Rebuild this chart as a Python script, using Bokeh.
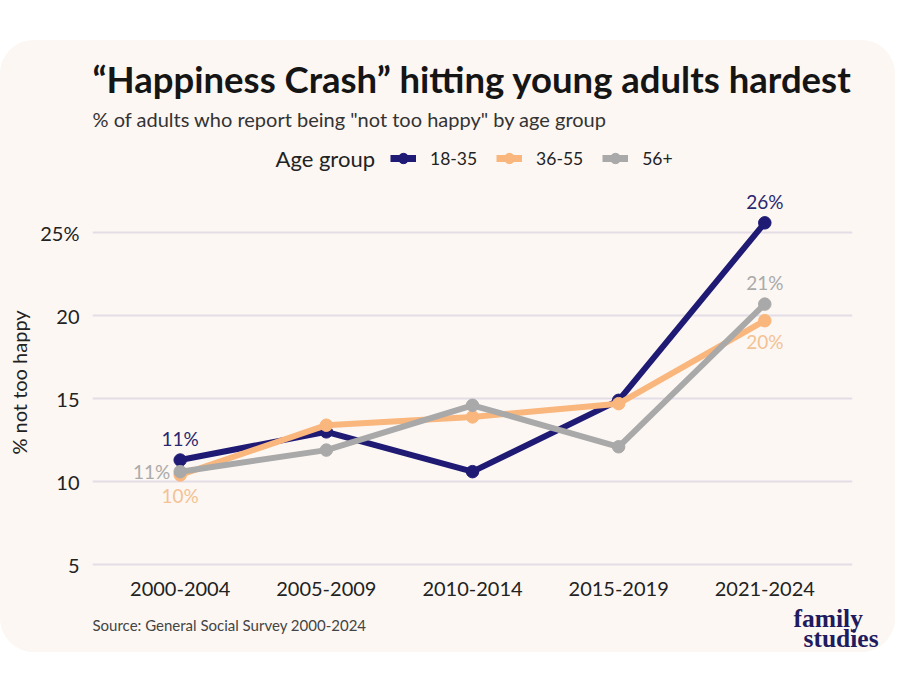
from bokeh.plotting import figure
from bokeh.models import (FactorRange, Range1d, FixedTicker, Legend, LegendItem, Spacer)
from bokeh.layouts import column, row
from bokeh.core.properties import value
from bokeh.embed import file_html
from bokeh.resources import INLINE

# ---- data ----
periods = ["2000-2004", "2005-2009", "2010-2014", "2015-2019", "2021-2024"]
age_18_35 = [11.3, 13.0, 10.6, 14.9, 25.6]
age_36_55 = [10.4, 13.4, 13.9, 14.7, 19.7]
age_56_up = [10.6, 11.9, 14.6, 12.1, 20.7]
series_names = ["18-35", "36-55", "56+"]
y_ticks = [5, 10, 15, 20, 25]
y_tick_labels = {5: "5", 10: "10", 15: "15", 20: "20", 25: "25%"}

title = "\u201cHappiness Crash\u201d hitting young adults hardest"
subtitle = '% of adults who report being "not too happy" by age group'
legend_title = "Age group"
source = "Source: General Social Survey 2000-2024"
logo_lines = ["family", "studies"]

NAVY = "#1f1b74"
PEACH = "#f9b67d"
GRAY = "#a9a9a9"
COLORS = [NAVY, PEACH, GRAY]
BG = "#fcf7f3"
FONT = "Lato"
W = 895
NAN = float("nan")
LW = 6


def blank(fig):
    fig.axis.visible = False
    fig.grid.visible = False
    fig.outline_line_color = None
    fig.background_fill_color = BG
    fig.border_fill_color = BG
    try:
        fig.title = None
    except Exception:
        pass


# ---------------- header: title, subtitle, legend ----------------
HH = 150
h = figure(width=W, height=HH, x_range=Range1d(0, W), y_range=Range1d(HH, 0),
           output_backend="svg", toolbar_location=None, min_border=0)
blank(h)
h.styles = {"border-top-left-radius": "34px", "border-top-right-radius": "34px", "overflow": "hidden"}
h.text(x=[92], y=[38], text=[title], text_font=value(FONT), text_font_size="36.5px",
       text_font_style="bold", text_color="#151515", text_baseline="middle")
h.text(x=[92], y=[78], text=[subtitle], text_font=value(FONT), text_font_size="20px",
       text_color="#333333", text_baseline="middle")
h.text(x=[275], y=[118], text=[legend_title], text_font=value(FONT), text_font_size="22px",
       text_color="#222222", text_baseline="middle")
items = []
for name, col in zip(series_names, COLORS):
    # legend proxies: a single NaN point, so nothing is drawn in the header itself
    kl = h.line(x=[NAN], y=[NAN], line_color=col, line_width=LW + 1)
    ks = h.scatter(x=[NAN], y=[NAN], size=12, fill_color=col, line_color=col)
    items.append(LegendItem(label=name, renderers=[kl, ks]))
legend = Legend(items=items, orientation="horizontal", location=(390, 17),
                label_text_font=FONT, label_text_font_size="17.5px", label_text_color="#222222",
                glyph_width=26, glyph_height=30, spacing=19, label_standoff=14,
                background_fill_alpha=0, border_line_color=None, padding=0, margin=0)
h.add_layout(legend, "center")

# ---------------- main chart ----------------
p = figure(x_range=FactorRange(factors=periods, range_padding=0.1, range_padding_units="absolute"),
           y_range=Range1d(4.4, 27.55),
           width=W, height=414,
           min_border_left=92, min_border_right=43, min_border_top=0, min_border_bottom=30,
           output_backend="svg", toolbar_location=None)
try:
    p.title = None
except Exception:
    pass
p.background_fill_color = BG
p.border_fill_color = BG
p.outline_line_color = None

p.xgrid.grid_line_color = None
p.ygrid.grid_line_color = "#e3dde8"
p.ygrid.grid_line_width = 2
p.yaxis.ticker = FixedTicker(ticks=y_ticks)
p.yaxis.major_label_overrides = y_tick_labels
for ax in (p.xaxis[0], p.yaxis[0]):
    ax.axis_line_color = None
    ax.major_tick_line_color = None
    ax.minor_tick_line_color = None
    ax.major_label_text_font = FONT
    ax.major_label_text_font_size = "20px"
    ax.major_label_text_color = "#222222"
p.xaxis.major_label_standoff = 1
p.yaxis.major_label_standoff = 7
p.yaxis.axis_label = "% not too happy"
p.yaxis.axis_label_text_font = FONT
p.yaxis.axis_label_text_font_style = "normal"
p.yaxis.axis_label_text_font_size = "20px"
p.yaxis.axis_label_text_color = "#222222"
p.yaxis.axis_label_standoff = 6

for vals, col in zip([age_18_35, age_36_55, age_56_up], COLORS):
    p.line(periods, vals, line_color=col, line_width=LW, line_join="round")
    p.scatter(periods, vals, size=12.5, fill_color=col, line_color=col)

lab_font = value(FONT)
p.text(x=[periods[0], periods[4]], y=[age_18_35[0], age_18_35[4]], text=["11%", "26%"],
       y_offset=[-10, -10], text_align="center", text_baseline="bottom", text_font=lab_font,
       text_font_size="19px", text_color="#2a2770")
p.text(x=[periods[0], periods[4]], y=[age_36_55[0], age_36_55[4]], text=["10%", "20%"],
       y_offset=[9, 9], text_align="center", text_baseline="top", text_font=lab_font,
       text_font_size="19px", text_color="#f3c293")
p.text(x=[periods[4]], y=[age_56_up[4]], text=["21%"],
       y_offset=[-10], text_align="center", text_baseline="bottom", text_font=lab_font,
       text_font_size="19px", text_color="#aaaaaa")
p.text(x=[periods[0]], y=[age_56_up[0]], text=["11%"],
       x_offset=[-10], text_align="right", text_baseline="middle", text_font=lab_font,
       text_font_size="19px", text_color="#aaaaaa")

# ---------------- footer: source and logo ----------------
FH = 48
f = figure(width=W, height=FH, x_range=Range1d(0, W), y_range=Range1d(FH, 0),
           output_backend="svg", toolbar_location=None, min_border=0)
blank(f)
f.styles = {"border-bottom-left-radius": "34px", "border-bottom-right-radius": "34px", "overflow": "hidden"}
f.text(x=[92], y=[20], text=[source], text_font=value(FONT), text_font_size="15px",
       text_color="#444444", text_baseline="middle")
f.text(x=[793, 803], y=[14, 34], text=logo_lines, text_font=value("Liberation Serif"),
       text_font_style="bold", text_font_size="25.5px", text_color="#1f1b5e", text_baseline="middle")

card = column(row(h), row(p), row(f), spacing=0)
card.styles = {"background-color": BG, "border-radius": "34px"}
layout = column(Spacer(height=40, width=W), card, spacing=0)
open("out.html", "w").write(file_html(layout, INLINE))
